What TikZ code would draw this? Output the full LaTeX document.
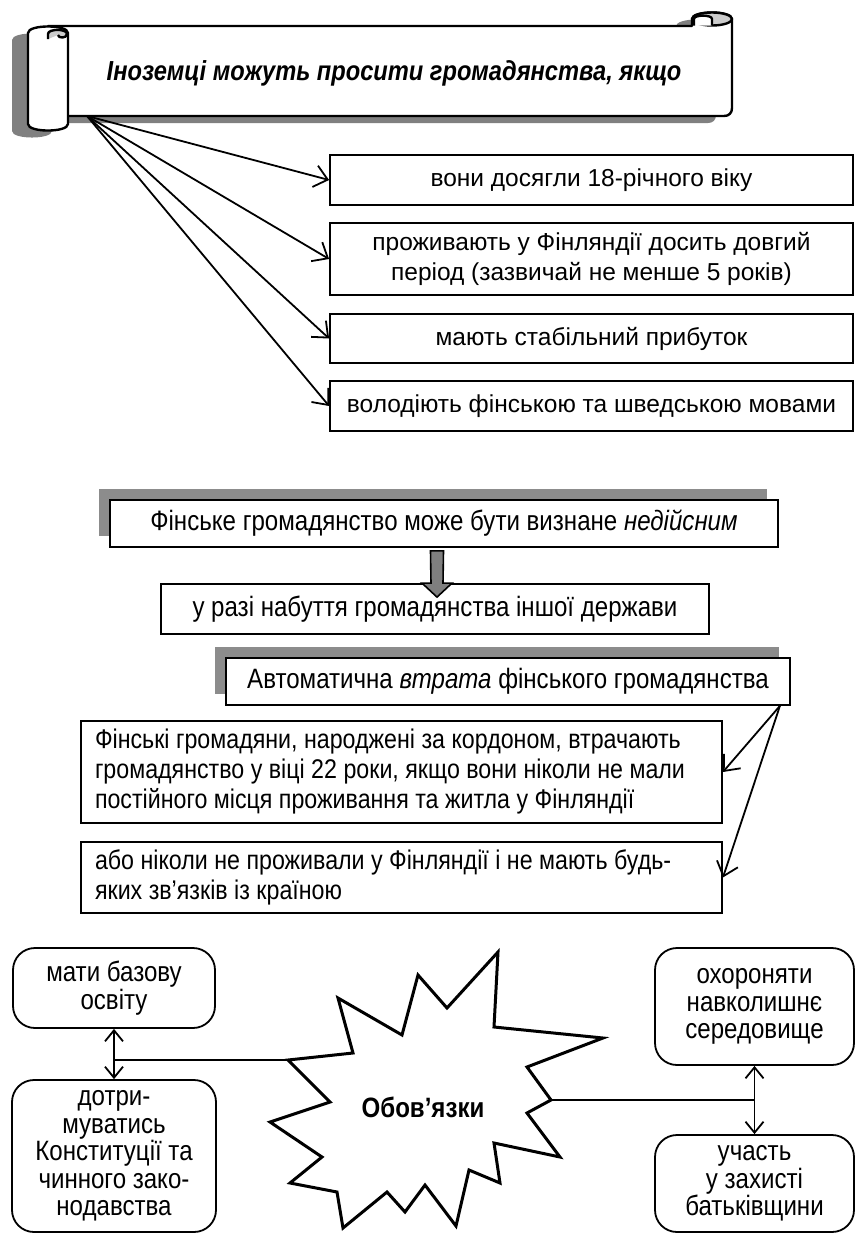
\documentclass[tikz,border=0pt]{standalone}
\usepackage{fontspec}
\setmainfont{Liberation Sans}
\newfontfamily\cf[FakeStretch=0.86]{Liberation Sans}
\usetikzlibrary{arrows.meta,calc,shadows}
\definecolor{shadowgray}{HTML}{8C8C8C}
\definecolor{bshadow}{HTML}{808080}
\definecolor{curlgray}{HTML}{CCCCCC}
\definecolor{arrowgray}{HTML}{7F7F7F}
\begin{document}
\begin{tikzpicture}[x=1pt,y=-1pt,
  txt/.style={font=\fontsize{24.5}{30}\selectfont},
  ctxt/.style={font=\cf\fontsize{28}{29.5}\selectfont},
  sqbox/.style={draw, line width=1.8pt, fill=white, inner sep=0pt, align=center, txt},
  csqbox/.style={draw, line width=1.8pt, fill=white, inner sep=0pt, align=center, ctxt},
  lbox/.style={draw, line width=1.8pt, fill=white, inner xsep=14pt, inner ysep=0pt, text width=613pt, align=flush left, font=\cf\fontsize{27}{30}\selectfont},
  shbox/.style={drop shadow={shadow xshift=-11pt, shadow yshift=11pt, fill=shadowgray, opacity=1}},
  rbox/.style={draw, line width=1.8pt, fill=white, rounded corners=22pt, inner sep=0pt, align=center,
     font=\cf\fontsize{28}{27.5}\selectfont},
  scroll/.style={line width=2.4pt, line join=round},
  arr/.style={line width=1.8pt, -{Straight Barb[length=13pt,width=22pt,line width=1.8pt]}},
  darr/.style={line width=1.8pt, {Straight Barb[length=11pt,width=18pt,line width=1.8pt]}-{Straight Barb[length=11pt,width=18pt,line width=1.8pt]}},
  conn/.style={line width=1.8pt}]
\useasboundingbox (0,0) rectangle (856,1234);

% ---------- scroll banner ----------
\begin{scope}[shift={(-16,7)}]
  \fill[bshadow] (48,26) -- (732,26) -- (732,108) .. controls (732,113) and (729,116) .. (724,116) -- (48,116) -- cycle;
  \fill[bshadow] (28,33) -- (28,124) .. controls (28,132.7) and (68,132.7) .. (68,124) -- (68,33) .. controls (68,24.3) and (28,24.3) .. cycle;
  \fill[bshadow] (712,19) ellipse[x radius=20, y radius=6.5];
\end{scope}
\draw[scroll, fill=white] (48,26) -- (692,26) -- (692,19) .. controls (692,10.3) and (732,10.3) .. (732,19)
   -- (732,108) .. controls (732,113) and (729,116) .. (724,116) -- (48,116) -- cycle;
\draw[scroll, fill=curlgray] (712,19) ellipse[x radius=20, y radius=6.5];
\draw[scroll, fill=white] (712,25.5) -- (712,19) .. controls (712,14.5) and (694,14.5) .. (694,19) -- (694,25.5);
\draw[scroll, fill=white] (28,33) -- (28,124) .. controls (28,132.7) and (68,132.7) .. (68,124) -- (68,33) .. controls (68,24.3) and (28,24.3) .. cycle;
\draw[scroll, fill=curlgray] (48,39) -- (48,34) .. controls (48,28.5) and (67,28.5) .. (67,34) .. controls (67,38.5) and (58,38.5) .. (58,35);
\node[font=\cf\fontsize{27.5}{30}\selectfont\bfseries\itshape] (title) at (394,73) {Іноземці можуть просити громадянства, якщо};
\coordinate (o) at (87,116);

% ---------- conditions ----------
\node[sqbox, minimum width=523pt, minimum height=50pt] (b1) at (591.5,180) {вони досягли 18-річного віку};
\node[sqbox, minimum width=523pt, minimum height=72pt] (b2) at (591.5,259) {проживають у Фінляндії досить довгий\\період (зазвичай не менше 5 років)};
\node[sqbox, minimum width=523pt, minimum height=49pt] (b3) at (591.5,338.5) {мають стабільний прибуток};
\node[sqbox, minimum width=523pt, minimum height=50pt] (b4) at (591.5,406) {володіють фінською та шведською мовами};
\foreach \b in {b1,b2,b3,b4} \draw[arr] (o) -- (\b.west);

% ---------- invalid ----------
\node[csqbox, shbox, minimum width=668pt, minimum height=47pt] (fin) at (444,523.5) {Фінське громадянство може бути визнане \textit{недійсним}};
\node[csqbox, minimum width=548pt, minimum height=50pt] (raz) at (435,609) {у разі набуття громадянства іншої держави};
\draw[line width=1.6pt, fill=arrowgray, line join=miter]
  ($(fin.south)+(-13.5,3)$) -- ($(fin.south)+(-0.5,3)$) -- ($(raz.north)+(8,0)$) -- ($(raz.north)+(17,0)$)
  -- ($(raz.north)+(2,14)$) -- ($(raz.north)+(-13,0)$) -- ($(raz.north)+(-4,0)$) -- cycle;

% ---------- automatic loss ----------
\node[csqbox, shbox, minimum width=564pt, minimum height=47pt] (auto) at (508,681.5) {Автоматична \textit{втрата} фінського громадянства};
\node[lbox, minimum height=102pt] (fins) at (401.5,772) {Фінські громадяни, народжені за кордоном, втрачають\\громадянство у віці 22 роки, якщо вони ніколи не мали\\постійного місця проживання та житла у Фінляндії};
\node[lbox, minimum height=71pt] (abo) at (401.5,877.5) {або ніколи не проживали у Фінляндії і не мають будь-\\яких зв’язків із країною};
\coordinate (ao) at ($(auto.south east)+(-11,0)$);
\draw[arr] (ao) -- (fins.east);
\draw[arr] (ao) -- (abo.east);

% ---------- duties ----------
\node[rbox, minimum width=202pt, minimum height=80pt] (mati) at (114,988) {мати базову\\освіту};
\node[rbox, minimum width=204pt, minimum height=152pt] (dotr) at (114,1156) {дотри-\\муватись\\Конституції та\\чинного зако-\\нодавства};
\node[rbox, minimum width=199pt, minimum height=117pt] (ox) at (754.5,1006.5) {охороняти\\навколишнє\\середовище};
\node[rbox, minimum width=199pt, minimum height=97pt] (uch) at (754.5,1183.5) {участь\\у захисті\\батьківщини};
\coordinate (sl) at (288,1060);
\coordinate (sr) at (551,1100);
\draw[conn] (sl) -- (sl -| mati.south);
\draw[conn] (sr) -- (sr -| ox.south);
\draw[darr] (mati.south) -- (dotr.north);
\draw[darr] (ox.south) -- (uch.north);
\draw[line width=3pt, fill=white, line join=miter, miter limit=20]
  (498,952) -- (494,1027) -- (603,1038) -- (527,1067) -- (sr) -- (527,1113) -- (560,1157) -- (494,1143)
  -- (500,1183) -- (469,1170) -- (456,1226) -- (425,1185) -- (405,1212) -- (387,1192) -- (343,1228)
  -- (337,1192) -- (290,1183) -- (322,1157) -- (270,1122) -- (330,1102) -- (sl) -- (353,1053)
  -- (338,998) -- (402,1035) -- (418,975) -- (447,1008) -- cycle;
\node[font=\cf\fontsize{28}{30}\selectfont\bfseries] (obov) at (423,1107) {Обов’язки};
\end{tikzpicture}
\end{document}
